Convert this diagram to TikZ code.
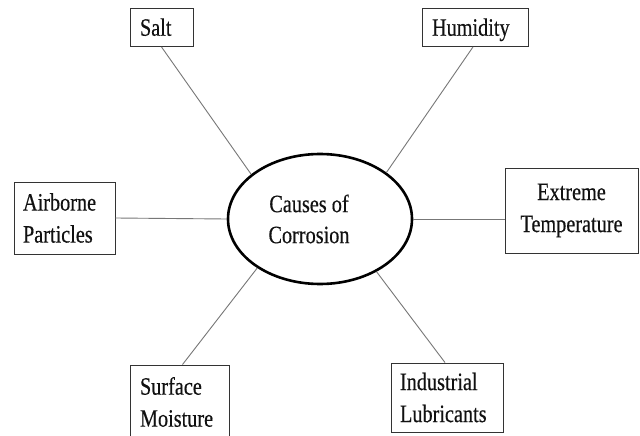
\documentclass[tikz,border=0pt]{standalone}
\usepackage{fontspec}
\setmainfont[FakeStretch=0.81,FakeBold=0.4]{Liberation Serif}
\usetikzlibrary{shapes.geometric}
\definecolor{boxc}{HTML}{333333}
\definecolor{linkc}{HTML}{777777}
\definecolor{txtc}{HTML}{111111}
\begin{document}
\begin{tikzpicture}[x=1pt,y=-1pt,
  font=\fontsize{25}{32}\selectfont,
  box/.style={draw=boxc, line width=0.9pt, rectangle, inner xsep=10pt, inner ysep=0pt, align=left, text=txtc},
  oneline/.style={text height=16.5pt, text depth=0pt},
  link/.style={draw=linkc, line width=0.9pt}]
\useasboundingbox (0,0) rectangle (640,436);
\clip (0,0) rectangle (640,436);
\fill[white] (0,0) rectangle (640,436);
\node[ellipse, draw=black, line width=2.6pt, minimum width=184pt, minimum height=130pt,
      align=center, inner sep=0pt, text=txtc] (ell) at (320,219)
      {Causes of\hspace*{22pt}\\[-1pt]Corrosion\hspace*{22pt}};
\node[box, oneline, text width=43pt, minimum height=38pt] (salt) at (161.5,27.5) {Salt};
\node[box, oneline, text width=86pt, minimum height=38pt] (hum) at (475,27.5) {Humidity};
\node[box, align=center, text width=113pt, minimum height=85pt] (ext) at (571.5,210.5) {Extreme\\Temperature};
\node[box, inner xsep=9pt, text width=83pt, minimum height=72pt] (air) at (64.5,218) {Airborne\\Particles};
\node[box, text width=79pt, minimum height=74pt] (sur) at (179.5,402) {Surface\\Moisture};
\node[box, inner xsep=9pt, text width=94pt, minimum height=69pt] (ind) at (447,397.5) {Industrial\\Lubricants};
\draw[link] (salt.south) -- (ell.147);
\draw[link] ([xshift=-2pt]hum.south) -- (ell.35);
\draw[link] (ell.east) -- (ell.east -| ext.west);
\draw[link] (air.east) -- (ell.west);
\draw[link] ([xshift=3pt]sur.north) -- (ell.218);
\draw[link] ([xshift=-2pt]ind.north) -- (ell.-43);
\end{tikzpicture}
\end{document}
